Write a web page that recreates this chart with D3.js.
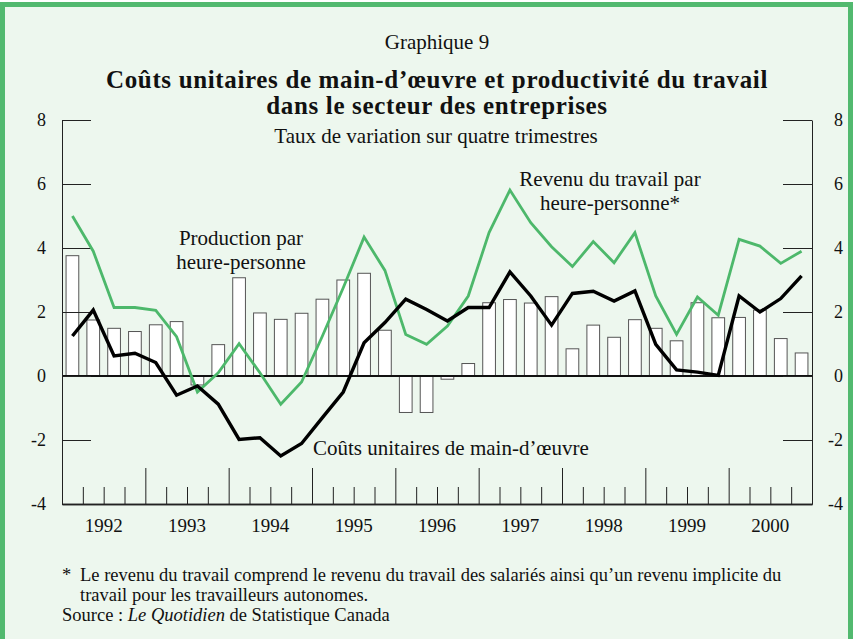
<!DOCTYPE html>
<html lang="fr">
<head>
    <meta charset="UTF-8">
    <title>Graphique 9</title>
    <script src="https://d3js.org/d3.v7.min.js"></script>
    <style>
        body { margin: 0; background: #ffffff; }
        svg text { font-family: "Liberation Serif", "Times New Roman", serif; fill: #111; }
        .axis path, .axis line { stroke: #222; }
        .bar { fill: #ffffff; stroke: #555; stroke-width: 1px; }
        .line { fill: none; stroke-linejoin: miter; }
    </style>
</head>
<body>
<script>
    var configuration = {
        "width": 853,
        "height": 639,
        "plot_left": 62,
        "plot_right": 812,
        "plot_top": 120,
        "plot_bottom": 504,
        "tick_len": 29,
        "major_tick": 36,
        "minor_tick": 17,
        "serif": "'Liberation Serif', 'Times New Roman', serif"
    };

    // quarterly data, 1992T1 .. 2000T4
    var years = [1992, 1993, 1994, 1995, 1996, 1997, 1998, 1999, 2000];
    var quarters = [];
    years.forEach(function (y) { for (var q = 1; q <= 4; q++) quarters.push(y + "T" + q); });

    // Production par heure-personne (bars)
    var productivite = [3.76, 1.75, 1.49, 1.39, 1.60, 1.70, -0.28, 0.98,
        3.07, 1.97, 1.77, 1.96, 2.40, 3.00, 3.21, 1.43,
        -1.14, -1.14, -0.10, 0.39, 2.29, 2.39, 2.28, 2.48,
        0.85, 1.59, 1.21, 1.76, 1.49, 1.10, 2.29, 1.82,
        1.83, 2.06, 1.17, 0.72];
    // Coûts unitaires de main-d'œuvre (black line)
    var coutsUnitaires = [1.25, 2.06, 0.63, 0.71, 0.42, -0.60, -0.31, -0.88,
        -1.98, -1.93, -2.50, -2.11, -1.30, -0.50, 1.04, 1.67,
        2.40, 2.08, 1.72, 2.14, 2.14, 3.25, 2.50, 1.59,
        2.58, 2.65, 2.34, 2.66, 0.99, 0.19, 0.12, 0.02,
        2.50, 2.00, 2.42, 3.13];
    // Revenu du travail par heure-personne (green line)
    var revenu = [5.00, 3.90, 2.14, 2.14, 2.05, 1.23, -0.50, 0.10,
        1.01, 0.10, -0.88, -0.19, 1.25, 2.76, 4.34, 3.30,
        1.30, 0.99, 1.56, 2.50, 4.48, 5.81, 4.79, 4.04,
        3.42, 4.20, 3.54, 4.48, 2.50, 1.30, 2.47, 1.90,
        4.27, 4.06, 3.52, 3.90];
    var yTicks = [-4, -2, 0, 2, 4, 6, 8];

    var svg = d3.select("body").append("svg")
            .attr("width", configuration.width)
            .attr("height", configuration.height);

    // panel with green border
    svg.append("rect")
            .attr("x", 2.5).attr("y", 4.5)
            .attr("width", 848).attr("height", 660)
            .attr("fill", "#edf7ee")
            .attr("stroke", "#52b96f")
            .attr("stroke-width", 5);

    var xScale = d3.scaleBand()
            .domain(d3.range(quarters.length))
            .range([configuration.plot_left, configuration.plot_right])
            .paddingInner(0.39)
            .paddingOuter(0.195);
    var xQuarter = d3.scaleLinear()
            .domain([0, quarters.length])
            .range([configuration.plot_left, configuration.plot_right]);
    var yScale = d3.scaleLinear()
            .domain([-4, 8])
            .range([configuration.plot_bottom, configuration.plot_top]);

    function cx(i) { return xScale(i) + xScale.bandwidth() / 2; }

    function txt(x, y, size, s) {
        return svg.append("text").attr("x", x).attr("y", y)
                .attr("text-anchor", "middle")
                .style("font-family", configuration.serif)
                .style("font-size", size + "px").text(s);
    }

    // titles
    txt(437, 49, 21, "Graphique 9");
    txt(437, 88, 25, "Coûts unitaires de main-d’œuvre et productivité du travail")
            .style("font-weight", "bold").style("letter-spacing", "0.65px");
    txt(437, 114, 25, "dans le secteur des entreprises")
            .style("font-weight", "bold").style("letter-spacing", "0.65px");
    txt(436, 143, 21, "Taux de variation sur quatre trimestres");

    // bars
    svg.selectAll("rect.bar")
            .data(productivite)
            .enter()
            .append("rect")
            .attr("class", "bar")
            .attr("x", function (d, i) { return xScale(i); })
            .attr("width", xScale.bandwidth())
            .attr("y", function (d) { return yScale(Math.max(0, d)); })
            .attr("height", function (d) { return Math.abs(yScale(d) - yScale(0)); });

    // zero line
    svg.append("line")
            .attr("x1", configuration.plot_left).attr("x2", configuration.plot_right)
            .attr("y1", yScale(0)).attr("y2", yScale(0))
            .attr("stroke", "#111").attr("stroke-width", 2);

    // y axes
    var leftAxis = svg.append("g").attr("class", "axis")
            .attr("transform", "translate(" + configuration.plot_left + ",0)")
            .call(d3.axisLeft(yScale).tickValues(yTicks)
                    .tickSizeInner(-configuration.tick_len).tickSizeOuter(0).tickPadding(16));
    var rightAxis = svg.append("g").attr("class", "axis")
            .attr("transform", "translate(" + configuration.plot_right + ",0)")
            .call(d3.axisRight(yScale).tickValues(yTicks)
                    .tickSizeInner(-configuration.tick_len).tickSizeOuter(0));
    rightAxis.selectAll("text").attr("text-anchor", "end").attr("x", 31);
    svg.selectAll(".axis text")
            .style("font-size", "18px")
            .style("font-family", configuration.serif)
            .text(function (d) { return d < 0 ? "-" + Math.abs(d) : d; });

    // x axis: quarter ticks pointing up from the baseline
    var bottom = svg.append("g").attr("class", "axis")
            .attr("transform", "translate(0," + configuration.plot_bottom + ")");
    bottom.append("g")
            .call(d3.axisBottom(xQuarter)
                    .tickValues(d3.range(1, quarters.length).filter(function (q) { return q % 4 != 0; }))
                    .tickSizeInner(-configuration.minor_tick).tickSizeOuter(0).tickFormat(""));
    bottom.append("g")
            .call(d3.axisBottom(xQuarter)
                    .tickValues(d3.range(4, quarters.length, 4))
                    .tickSizeInner(-configuration.major_tick).tickSizeOuter(0).tickFormat(""));
    bottom.selectAll("path.domain").attr("stroke-width", 1.5);
    bottom.selectAll("text").remove();
    bottom.append("g")
            .selectAll("text")
            .data(years)
            .enter()
            .append("text")
            .attr("x", function (d, i) { return xQuarter(i * 4 + 2); })
            .attr("y", 28)
            .attr("text-anchor", "middle")
            .style("font-family", configuration.serif)
            .style("font-size", "19px")
            .text(function (d) { return d; });

    // lines
    var lineShaper = d3.line()
            .x(function (d, i) { return cx(i); })
            .y(function (d) { return yScale(d); });

    svg.append("path")
            .datum(revenu)
            .attr("class", "line")
            .attr("d", lineShaper)
            .attr("stroke", "#4db86b")
            .attr("stroke-width", 2.8);

    svg.append("path")
            .datum(coutsUnitaires)
            .attr("class", "line")
            .attr("d", lineShaper)
            .attr("stroke", "#000")
            .attr("stroke-width", 3.4);

    // annotations
    function label(x, y, lines, anchor) {
        var t = svg.append("text").attr("x", x).attr("y", y)
                .attr("text-anchor", anchor || "middle")
                .style("font-family", configuration.serif)
                .style("font-size", "21px");
        lines.forEach(function (l, i) {
            t.append("tspan").attr("x", x).attr("dy", i === 0 ? 0 : 24).text(l);
        });
    }
    label(241, 245, ["Production par", "heure-personne"]);
    label(610, 186, ["Revenu du travail par", "heure-personne*"]);
    label(313, 455, ["Coûts unitaires de main-d’œuvre"], "start");

    // footnotes
    var notes = svg.append("g")
            .style("font-family", configuration.serif)
            .style("font-size", "18.5px");
    notes.append("text").attr("x", 62).attr("y", 581).text("*");
    notes.append("text").attr("x", 80).attr("y", 581)
            .text("Le revenu du travail comprend le revenu du travail des salariés ainsi qu’un revenu implicite du");
    notes.append("text").attr("x", 80).attr("y", 601)
            .text("travail pour les travailleurs autonomes.");
    var src = notes.append("text").attr("x", 62).attr("y", 621);
    src.append("tspan").text("Source : ");
    src.append("tspan").style("font-style", "italic").text("Le Quotidien");
    src.append("tspan").text(" de Statistique Canada");
</script>
</body>
</html>
